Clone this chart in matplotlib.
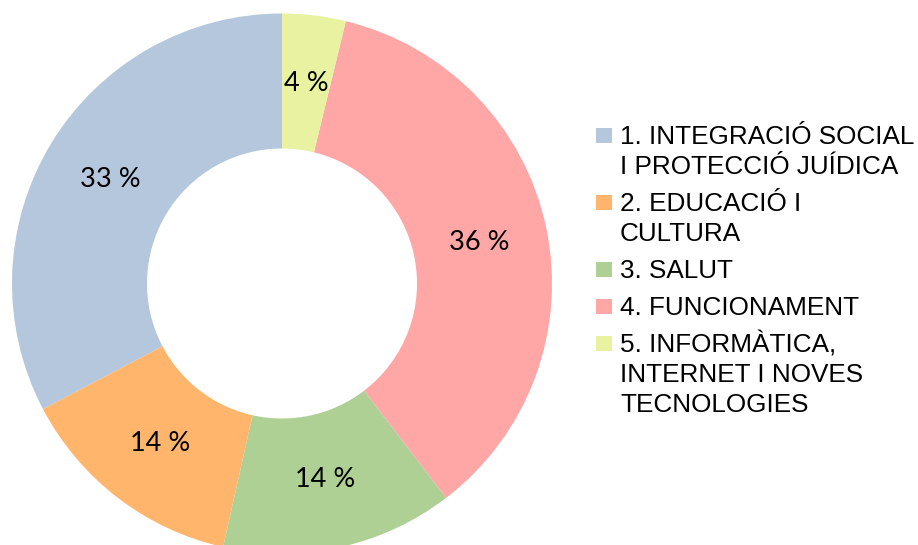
import matplotlib.pyplot as plt
from matplotlib.patches import Rectangle

# data (shares, percent)
categories = [
    "1. INTEGRACIÓ SOCIAL\nI PROTECCIÓ JUÍDICA",
    "2. EDUCACIÓ I\nCULTURA",
    "3. SALUT",
    "4. FUNCIONAMENT",
    "5. INFORMÀTICA,\nINTERNET I NOVES\nTECNOLOGIES",
]
shares = [32.7, 13.8, 13.9, 35.8, 3.8]
colors = ["#b4c7dc", "#ffb66c", "#afd095", "#ffa6a6", "#e8f2a1"]

W, H = 918, 545
fig = plt.figure(figsize=(W / 100, H / 100), dpi=100)

# donut: centre ~(282, 283) px, outer radius ~270 px
cx, cy, r = 282, 283.5, 270
ax = fig.add_axes([(cx - r) / W, (H - cy - r) / H, 2 * r / W, 2 * r / H])
wedges, texts, autotexts = ax.pie(
    shares,
    colors=colors,
    startangle=90,
    counterclock=True,
    radius=1,
    autopct=lambda p: f"{p:.0f} %",
    pctdistance=0.745,
    wedgeprops=dict(width=0.5, linewidth=0),
    textprops=dict(fontsize=19.5, family=["Lato", "DejaVu Sans"], color="black"),
)
ax.set_xlim(-1, 1)
ax.set_ylim(-1, 1)
ax.set_aspect("equal")

# legend drawn by hand so the square lines up with the first text line
font = dict(fontsize=18.8, family=["Liberation Sans", "DejaVu Sans"], color="black")
base = 144  # baseline of the first line, px from top
for label, col in zip(categories, colors):
    lines = label.split("\n")
    fig.add_artist(Rectangle((596 / W, 1 - (base - 1) / H), 16 / W, 15 / H,
                             transform=fig.transFigure, facecolor=col,
                             edgecolor="none"))
    y = base
    for ln in lines:
        fig.text(620 / W, 1 - y / H, ln, va="baseline", ha="left", **font)
        y += 30
    base = y + 7

fig.savefig("out.png", dpi=100)
